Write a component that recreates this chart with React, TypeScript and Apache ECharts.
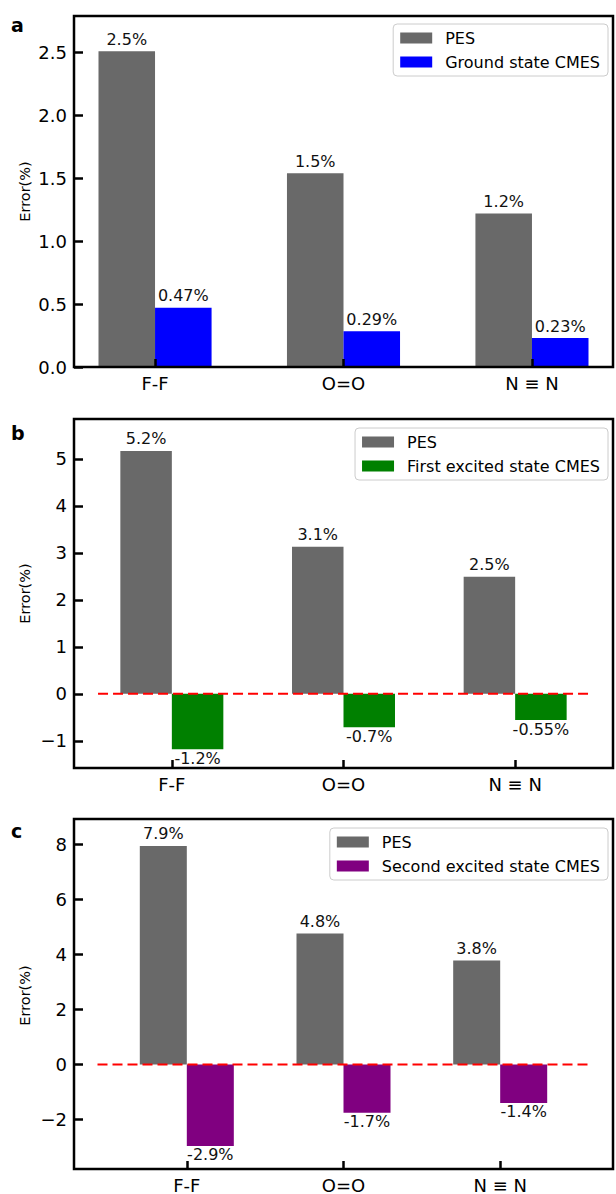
import React, { useEffect, useRef } from 'react';
import * as echarts from 'echarts';

const categories = ['F-F', 'O=O', 'N ≡ N'];
const xPositions = [0, 1, 2];

const pesA = [2.51, 1.54, 1.22];
const groundA = [0.47, 0.285, 0.23];
const pesLabelsA = ['2.5%', '1.5%', '1.2%'];
const groundLabelsA = ['0.47%', '0.29%', '0.23%'];

const pesB = [5.17, 3.13, 2.49];
const firstB = [-1.18, -0.71, -0.56];
const pesLabelsB = ['5.2%', '3.1%', '2.5%'];
const firstLabelsB = ['-1.2%', '-0.7%', '-0.55%'];

const pesC = [7.94, 4.76, 3.78];
const secondC = [-2.96, -1.76, -1.4];
const pesLabelsC = ['7.9%', '4.8%', '3.8%'];
const secondLabelsC = ['-2.9%', '-1.7%', '-1.4%'];

const yTicksA = [0, 0.5, 1, 1.5, 2, 2.5];
const yTicksB = [-1, 0, 1, 2, 3, 4, 5];
const yTicksC = [-2, 0, 2, 4, 6, 8];

const refLineB = [-0.43, 2.43];
const refLineC = [-0.57, 2.57];

const FONT = 'DejaVu Sans';
const BAR_FRAC = 0.3;
const GRID_LEFT = 74;
const GRID_RIGHT = 3;
const CHART_W = 616;

const panels = [
  {
    letter: 'a', top: 16, height: 351, xMin: -0.43, xMax: 2.43, yMin: 0, yMax: 2.79,
    yTicks: yTicksA, dec: 1, pes: pesA, pesLabels: pesLabelsA, other: groundA,
    otherLabels: groundLabelsA, otherName: 'Ground state CMES', color: '#0000ff',
    ref: null as number[] | null, legendTop: 24, letterY: 26,
  },
  {
    letter: 'b', top: 419, height: 349, xMin: -0.57, xMax: 2.57, yMin: -1.58, yMax: 5.85,
    yTicks: yTicksB, dec: 0, pes: pesB, pesLabels: pesLabelsB, other: firstB,
    otherLabels: firstLabelsB, otherName: 'First excited state CMES', color: '#008000',
    ref: refLineB, legendTop: 428, letterY: 434,
  },
  {
    letter: 'c', top: 819, height: 353, xMin: -0.72, xMax: 2.72, yMin: -3.8, yMax: 8.92,
    yTicks: yTicksC, dec: 0, pes: pesC, pesLabels: pesLabelsC, other: secondC,
    otherLabels: secondLabelsC, otherName: 'Second excited state CMES', color: '#800080',
    ref: refLineC, legendTop: 828, letterY: 832,
  },
];

function buildOption() {
  const plotW = CHART_W - GRID_LEFT - GRID_RIGHT;
  const grid: any[] = [];
  const xAxis: any[] = [];
  const yAxis: any[] = [];
  const series: any[] = [];
  const legend: any[] = [];
  const graphic: any[] = [];

  panels.forEach((p, i) => {
    const barWidth = (BAR_FRAC * plotW) / (p.xMax - p.xMin);
    grid.push({
      left: GRID_LEFT, right: GRID_RIGHT, top: p.top, height: p.height,
      show: true, borderColor: '#000', borderWidth: 2.5, backgroundColor: 'transparent', z: 5,
    });
    xAxis.push({
      type: 'value', gridIndex: i, min: p.xMin, max: p.xMax, z: 5,
      axisLine: { show: false, onZero: false },
      splitLine: { show: false },
      axisTick: {
        show: true, inside: true, length: 8, customValues: xPositions,
        lineStyle: { color: '#000', width: 2.5 },
      },
      axisLabel: {
        customValues: xPositions, margin: 7, fontSize: 18, color: '#000', fontFamily: FONT,
        formatter: (v: number) => categories[Math.round(v)] ?? '',
      },
    });
    yAxis.push({
      type: 'value', gridIndex: i, min: p.yMin, max: p.yMax, z: 5,
      axisLine: { show: false, onZero: false },
      splitLine: { show: false },
      axisTick: {
        show: true, inside: true, length: 9, customValues: p.yTicks,
        lineStyle: { color: '#000', width: 2.5 },
      },
      axisLabel: {
        customValues: p.yTicks, margin: 7, fontSize: 18, color: '#000', fontFamily: FONT,
        formatter: (v: number) =>
          p.dec ? v.toFixed(1) : v < 0 ? '\u2212' + Math.abs(v) : String(v),
      },
    });
    const labelBase = { show: true, fontSize: 16, color: '#111', fontFamily: FONT };
    series.push({
      type: 'bar', name: 'PES', xAxisIndex: i, yAxisIndex: i, barWidth, barGap: '0%',
      itemStyle: { color: '#696969' },
      label: { ...labelBase, position: 'top', distance: 4 },
      data: p.pes.map((v, j) => ({ value: [xPositions[j], v], label: { formatter: p.pesLabels[j] } })),
    });
    series.push({
      type: 'bar', name: p.otherName, xAxisIndex: i, yAxisIndex: i, barWidth, barGap: '0%',
      itemStyle: { color: p.color },
      label: { ...labelBase },
      data: p.other.map((v, j) => ({
        value: [xPositions[j], v],
        label: { formatter: p.otherLabels[j], position: v >= 0 ? 'top' : 'bottom', distance: v >= 0 ? 4 : 1 },
      })),
    });
    if (p.ref) {
      series.push({
        type: 'line', name: 'zero', xAxisIndex: i, yAxisIndex: i, silent: true,
        symbol: 'none', z: 4,
        lineStyle: { color: '#ff0000', type: [10, 5], width: 2 },
        data: [[p.ref[0], 0], [p.ref[1], 0]],
      });
    }
    legend.push({
      top: p.legendTop, right: 8, orient: 'vertical', data: ['PES', p.otherName],
      itemWidth: 32, itemHeight: 11, itemGap: 8, icon: 'rect', selectedMode: false,
      backgroundColor: '#fff', borderColor: '#cccccc', borderWidth: 1, borderRadius: 4,
      padding: [6, 8, 6, 7],
      textStyle: { fontSize: 16, color: '#000', fontFamily: FONT, padding: [0, 0, 0, 8] },
    });
    graphic.push({
      type: 'text', left: 11, top: p.letterY - 11,
      style: { text: p.letter, fontSize: 19, fontWeight: 'bold', fill: '#000', fontFamily: FONT },
    });
    graphic.push({
      type: 'text', x: 25, y: p.top + p.height / 2, rotation: Math.PI / 2,
      style: {
        text: 'Error(%)', fontSize: 14.5, fill: '#000', fontFamily: FONT,
        textAlign: 'center', textVerticalAlign: 'middle',
      },
    });
  });

  return {
    animation: false,
    textStyle: { fontFamily: FONT },
    grid, xAxis, yAxis, series, legend, graphic,
  };
}

export default function App() {
  const ref = useRef<HTMLDivElement>(null);
  useEffect(() => {
    if (!ref.current) return;
    const chart = echarts.init(ref.current, null, { renderer: 'svg' });
    chart.setOption(buildOption() as any);
    return () => chart.dispose();
  }, []);
  return (
    <div
      ref={ref}
      style={{ position: 'absolute', left: 0, top: 0, width: 616, height: 1194, background: '#fff' }}
    />
  );
}
